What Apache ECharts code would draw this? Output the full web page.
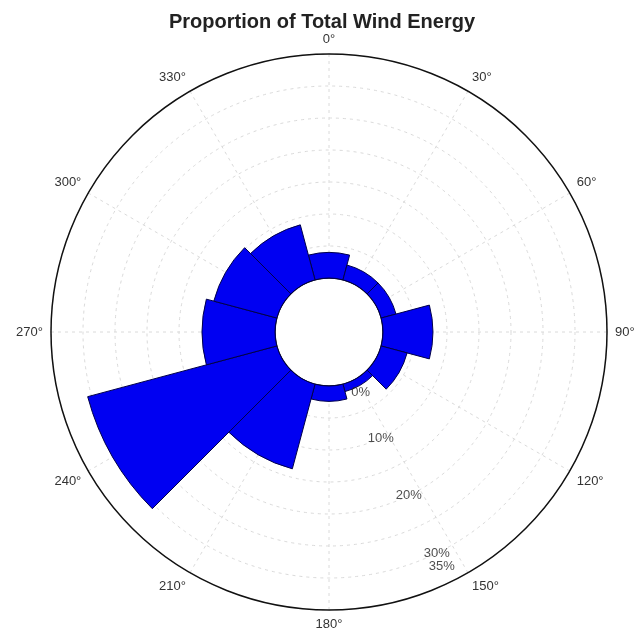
<!DOCTYPE html>
<html>
<head>
<meta charset="utf-8">
<script src="https://cdn.jsdelivr.net/npm/echarts@6/dist/echarts.min.js"></script>
<style>
  html, body { margin: 0; padding: 0; background: #fff; }
  #chart { width: 644px; height: 636px; }
</style>
</head>
<body>
<div id="chart"></div>
<script>
// wind direction sectors (centre of each 30 deg bin)
const directions = ['0°', '30°', '60°', '90°', '120°', '150°', '180°', '210°', '240°', '270°', '300°', '330°'];
// share of total wind energy per sector, %
const energyShare = [4.0, 2.4, 2.4, 7.8, 4.2, 1.2, 2.4, 13.7, 30.6, 11.4, 10.2, 8.9];
// radial tick labels shown along the 154 deg spoke
const radialTicks = [0, 10, 20, 30, 35];

const FONT = 'Liberation Sans, Arial, sans-serif';
const center = [329, 332];
const radius = [54, 278];

const chart = echarts.init(document.getElementById('chart'));

// little nudges so the 0% and 35% labels sit off the rings like the original
const labelOffsets = { 0: [8, 12], 35: [-9, -15] };

chart.setOption({
  backgroundColor: '#fff',
  title: {
    text: 'Proportion of Total Wind Energy',
    left: 'center',
    top: 7,
    textStyle: { fontFamily: FONT, fontSize: 20, fontWeight: 'bold', color: '#222' }
  },
  polar: [
    { center: center, radius: radius },
    { center: center, radius: radius }
  ],
  angleAxis: [
    {
      polarIndex: 0,
      type: 'value',
      min: 0,
      max: 360,
      interval: 30,
      startAngle: 90,
      clockwise: true,
      axisLine: { lineStyle: { color: '#111', width: 1.5 } },
      axisTick: { show: false },
      axisLabel: { formatter: '{value}°', color: '#333', fontFamily: FONT, fontSize: 13, margin: 8 },
      splitLine: { lineStyle: { color: '#dadada', type: [3, 4], width: 1 } }
    },
    {
      polarIndex: 1,
      type: 'category',
      data: directions,
      startAngle: 105,
      clockwise: true,
      axisLine: { show: false },
      axisTick: { show: false },
      axisLabel: { show: false },
      splitLine: { show: false }
    }
  ],
  radiusAxis: [
    {
      polarIndex: 0,
      type: 'value',
      min: 0,
      max: 35,
      interval: 5,
      axisLine: { show: false },
      axisTick: { show: false },
      axisLabel: { show: false },
      splitLine: { lineStyle: { color: '#dadada', type: [3, 4], width: 1 } }
    },
    {
      polarIndex: 1,
      type: 'value',
      min: 0,
      max: 35,
      axisLine: { show: false },
      axisTick: { show: false },
      axisLabel: { show: false },
      splitLine: { show: false }
    }
  ],
  series: [
    {
      type: 'bar',
      coordinateSystem: 'polar',
      polarIndex: 1,
      barCategoryGap: '0%',
      data: energyShare,
      itemStyle: { color: '#0000f2', borderColor: '#00004a', borderWidth: 1 },
      z: 3
    },
    {
      type: 'scatter',
      coordinateSystem: 'polar',
      polarIndex: 0,
      symbolSize: 0,
      silent: true,
      z: 4,
      data: radialTicks.map(v => ({
        value: [v, 154],
        label: { offset: labelOffsets[v] || [0, 0] }
      })),
      label: {
        show: true,
        position: 'inside',
        formatter: p => p.value[0] + '%',
        color: '#222',
        fontFamily: FONT,
        fontSize: 13
      }
    }
  ]
});
</script>
</body>
</html>
